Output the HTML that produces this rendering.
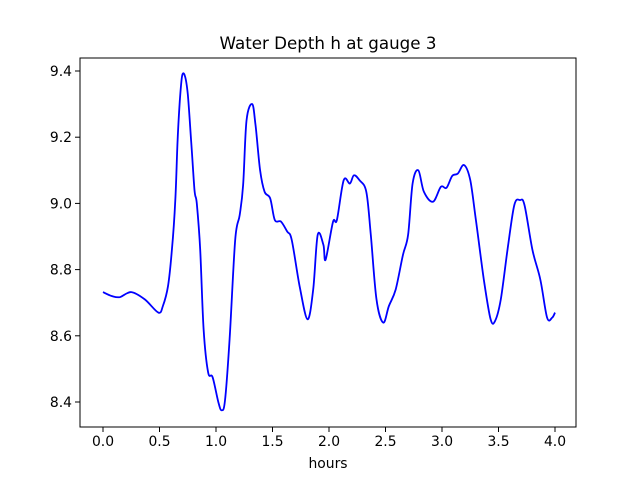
<!DOCTYPE html>
<html><head><meta charset="utf-8"><style>
body{margin:0;background:#fff}
svg{display:block;font-family:"DejaVu Sans","Liberation Sans",sans-serif}
</style></head><body>
<svg id="chart" width="640" height="480">
<rect width="640" height="480" fill="#fff"/>
<text x="328" y="49" text-anchor="middle" font-size="16.7">Water Depth h at gauge 3</text>
<g id="ticks"></g>
<path id="line" fill="none" stroke="#0000ff" stroke-width="1.8" stroke-linejoin="round"/>
<rect x="80" y="58" width="496" height="369" fill="none" stroke="#000" stroke-width="1"/>
<text x="328" y="468" text-anchor="middle" font-size="13.9">hours</text>
</svg>
<script>
const hours=[0,0.08,0.15,0.25,0.37,0.49,0.53,0.575,0.61,0.64,0.66,0.68,0.70,0.725,0.75,0.78,0.81,0.83,0.86,0.89,0.93,0.97,1.02,1.05,1.08,1.12,1.17,1.21,1.24,1.27,1.32,1.35,1.39,1.43,1.48,1.52,1.575,1.63,1.67,1.74,1.81,1.86,1.90,1.95,1.97,2.035,2.07,2.13,2.185,2.22,2.27,2.33,2.37,2.42,2.48,2.53,2.59,2.655,2.70,2.74,2.79,2.84,2.92,2.99,3.04,3.09,3.14,3.195,3.25,3.30,3.37,3.43,3.47,3.52,3.58,3.64,3.69,3.73,3.80,3.87,3.93,3.975,4.0];
const depth=[8.732,8.72,8.717,8.732,8.71,8.67,8.69,8.75,8.86,9.01,9.19,9.31,9.385,9.385,9.33,9.19,9.04,9.0,8.86,8.62,8.49,8.475,8.40,8.375,8.405,8.59,8.89,8.965,9.055,9.25,9.30,9.235,9.10,9.035,9.015,8.95,8.945,8.915,8.89,8.75,8.65,8.74,8.905,8.875,8.83,8.944,8.95,9.07,9.06,9.085,9.07,9.035,8.905,8.71,8.64,8.69,8.74,8.845,8.905,9.06,9.10,9.035,9.005,9.05,9.047,9.083,9.09,9.116,9.07,8.95,8.77,8.65,8.645,8.71,8.86,8.995,9.01,8.995,8.86,8.77,8.655,8.655,8.67];
const xTicks=[0,0.5,1,1.5,2,2.5,3,3.5,4];
const yTicks=[8.4,8.6,8.8,9.0,9.2,9.4];
const sx=h=>103+113*h;
const sy=v=>71+331*(9.4-v);
const NS="http://www.w3.org/2000/svg";
const P=hours.map((h,i)=>[sx(h),sy(depth[i])]);
let d='M'+P[0][0].toFixed(1)+','+P[0][1].toFixed(1);
for(let i=0;i<P.length-1;i++){
  const p0=P[Math.max(0,i-1)],p1=P[i],p2=P[i+1],p3=P[Math.min(P.length-1,i+2)];
  const c1=[p1[0]+(p2[0]-p0[0])/6,p1[1]+(p2[1]-p0[1])/6];
  const c2=[p2[0]-(p3[0]-p1[0])/6,p2[1]-(p3[1]-p1[1])/6];
  d+=' C'+c1.map(v=>v.toFixed(1)).join(',')+' '+c2.map(v=>v.toFixed(1)).join(',')+' '+p2.map(v=>v.toFixed(1)).join(',');
}
document.getElementById('line').setAttribute('d',d);
const g=document.getElementById('ticks');
xTicks.forEach(t=>{
  const l=document.createElementNS(NS,'line');
  l.setAttribute('x1',sx(t));l.setAttribute('x2',sx(t));l.setAttribute('y1',427);l.setAttribute('y2',432);l.setAttribute('stroke','#000');
  
  
  g.appendChild(l);
  const s=document.createElementNS(NS,'text');
  s.setAttribute('x',sx(t));s.setAttribute('y',446);s.setAttribute('text-anchor','middle');s.setAttribute('font-size','13.9');
  s.textContent=t.toFixed(1);
  
  
  g.appendChild(s);
});
yTicks.forEach(t=>{
  const l=document.createElementNS(NS,'line');
  l.setAttribute('x1',75);l.setAttribute('x2',80);l.setAttribute('y1',sy(t));l.setAttribute('y2',sy(t));l.setAttribute('stroke','#000');
  
  
  g.appendChild(l);
  const s=document.createElementNS(NS,'text');
  s.setAttribute('x',72);s.setAttribute('y',sy(t)+5);s.setAttribute('text-anchor','end');s.setAttribute('font-size','13.9');
  s.textContent=t.toFixed(1);
  
  
  g.appendChild(s);
});
</script>
</body></html>
